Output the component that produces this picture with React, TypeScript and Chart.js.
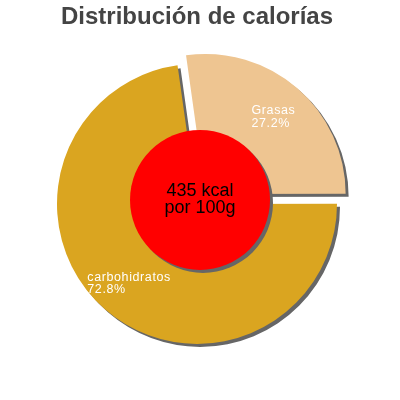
import { useEffect, useRef } from "react"
import { Chart, registerables } from "chart.js"
import type { Plugin } from "chart.js"

Chart.register(...registerables)

const labels = ["Grasas", "carbohidratos"]
const shares = [27.2, 72.8]
const energyLines = ["435 kcal", "por 100g"]
const title = "Distribución de calorías"

const sliceColors = ["#EEC591", "#DAA520"]
const EXPLODE = 13 // px the Grasas slice is pulled out
const RADIUS = 140
const FONT = "'Liberation Sans', Arial, Helvetica, sans-serif"

// gray drop shadow under slices, labels and the red energy disc on top
const piePlugin: Plugin<"pie"> = {
  id: "pieDecor",
  beforeDatasetsDraw(chart) {
    const ctx = chart.ctx
    ctx.save()
    ctx.shadowColor = "#666666"
    ctx.shadowOffsetX = 3
    ctx.shadowOffsetY = 3
    ctx.shadowBlur = 0
  },
  afterDatasetsDraw(chart) {
    const ctx = chart.ctx
    ctx.restore()

    const meta = chart.getDatasetMeta(0)
    const offsets = chart.data.datasets[0].offset as number[]

    // slice labels
    ctx.save()
    ctx.font = `12.5px ${FONT}`
    ;(ctx as any).letterSpacing = "0.6px"
    ctx.fillStyle = "#ffffff"
    ctx.textAlign = "left"
    ctx.textBaseline = "alphabetic"
    meta.data.forEach((el, i) => {
      const { x, y, startAngle, endAngle, outerRadius } = el.getProps(
        ["x", "y", "startAngle", "endAngle", "outerRadius"],
        true
      ) as any
      const mid = (startAngle + endAngle) / 2
      const d = (offsets[i] || 0) / 4 + outerRadius * 0.74
      const px = x + Math.cos(mid) * d
      const py = y + Math.sin(mid) * d
      const lines = [labels[i], `${shares[i].toFixed(1)}%`]
      const w = Math.max(...lines.map((l) => ctx.measureText(l).width))
      const left = px - w / 2
      ctx.fillText(lines[0], left, py - 1.5)
      ctx.fillText(lines[1], left, py + 10.8)
    })
    ctx.restore()

    // energy disc
    const first = meta.data[0] as any
    const cx = first.x + 3
    const cy = first.y - 4
    ctx.save()
    ctx.shadowColor = "#666666"
    ctx.shadowOffsetX = 3
    ctx.shadowOffsetY = 3
    ctx.shadowBlur = 0
    ctx.beginPath()
    ctx.arc(cx, cy, 70, 0, Math.PI * 2)
    ctx.fillStyle = "#FF0000"
    ctx.fill()
    ctx.restore()

    ctx.save()
    ctx.font = `18px ${FONT}`
    ctx.fillStyle = "#000000"
    ctx.textAlign = "center"
    ctx.textBaseline = "alphabetic"
    ctx.fillText(energyLines[0], cx, cy - 4)
    ctx.fillText(energyLines[1], cx, cy + 13)
    ctx.restore()
  },
}

function CaloriePie() {
  const chartRef = useRef<HTMLCanvasElement>(null)
  const chartInstance = useRef<Chart | null>(null)

  useEffect(() => {
    if (!chartRef.current) return

    if (chartInstance.current) {
      chartInstance.current.destroy()
    }

    const ctx = chartRef.current.getContext("2d")
    if (!ctx) return

    chartInstance.current = new Chart(ctx, {
      type: "pie",
      data: {
        labels,
        datasets: [
          {
            data: shares,
            backgroundColor: sliceColors,
            borderWidth: 0,
            offset: [EXPLODE * 4, 0],
            hoverOffset: 0,
          },
        ],
      },
      options: {
        animation: false,
        responsive: true,
        maintainAspectRatio: false,
        events: [],
        rotation: -8,
        radius: RADIUS,
        layout: {
          padding: { left: 0, right: 6, top: 0, bottom: 29 },
        },
        plugins: {
          legend: { display: false },
          tooltip: { enabled: false },
          title: {
            display: true,
            text: title,
            color: "#444444",
            font: { family: FONT, size: 24, weight: "bold" },
            padding: { top: 3, bottom: 5 },
          },
        },
      },
      plugins: [piePlugin],
    })

    return () => {
      if (chartInstance.current) {
        chartInstance.current.destroy()
        chartInstance.current = null
      }
    }
  }, [])

  return <canvas ref={chartRef} />
}

export default function App() {
  return (
    <div style={{ position: "fixed", left: 0, top: 0, width: 400, height: 400, background: "#fff" }}>
      <CaloriePie />
    </div>
  )
}
